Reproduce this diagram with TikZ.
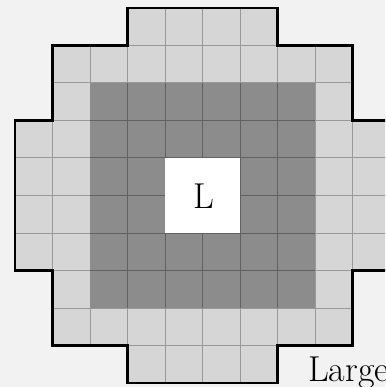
\documentclass[tikz,border=0pt]{standalone}
\definecolor{paper}{gray}{0.95}
\definecolor{ringgray}{gray}{0.84}
\definecolor{coregray}{gray}{0.55}
\begin{document}
\begin{tikzpicture}[x=37.5pt,y=-37.5pt,line join=miter,
    cellline/.style={gray!80,line width=1pt},
    coreline/.style={black!62,line width=1pt},
    rim/.style={line width=2.2pt},
    bigtext/.style={font=\fontsize{36}{36}\selectfont,inner sep=0pt}]
  \useasboundingbox (-0.4,-0.2133) rectangle (9.8667,10.1067);
  \clip (-0.4,-0.2133) rectangle (9.8667,10.1067);
  \fill[paper] (-0.4,-0.2133) rectangle (9.8667,10.1067);
  % outline of the block
  \coordinate (c1) at (3,0);  \coordinate (c2) at (7,0);
  \coordinate (c3) at (7,1);  \coordinate (c4) at (9,1);
  \coordinate (c5) at (9,3);  \coordinate (c6) at (10,3);
  \coordinate (c7) at (10,7); \coordinate (c8) at (9,7);
  \coordinate (c9) at (9,9);  \coordinate (c10) at (7,9);
  \coordinate (c11) at (7,10); \coordinate (c12) at (3,10);
  \coordinate (c13) at (3,9); \coordinate (c14) at (1,9);
  \coordinate (c15) at (1,7); \coordinate (c16) at (0,7);
  \coordinate (c17) at (0,3); \coordinate (c18) at (1,3);
  \coordinate (c19) at (1,1); \coordinate (c20) at (3,1);
  \begin{scope}
    \clip (c1)--(c2)--(c3)--(c4)--(c5)--(c6)--(c7)--(c8)--(c9)--(c10)
      --(c11)--(c12)--(c13)--(c14)--(c15)--(c16)--(c17)--(c18)--(c19)--(c20)--cycle;
    \fill[ringgray] (0,0) rectangle (10,10);
    \foreach \k in {1,...,9} {
      \draw[cellline] (\k,0) -- (\k,10);
      \draw[cellline] (0,\k) -- (10,\k);
    }
  \end{scope}
  % dark core
  \fill[coregray] (2,2) rectangle (8,8);
  \foreach \k in {3,...,7} {
    \draw[coreline] (\k,2) -- (\k,8);
    \draw[coreline] (2,\k) -- (8,\k);
  }
  \fill[white] (4,4) rectangle (6,6);
  \node[bigtext] (lbl) at (5.03,5.02) {L};
  \draw[rim] (c1)--(c2)--(c3)--(c4)--(c5)--(c6)--(c7)--(c8)--(c9)--(c10)
    --(c11)--(c12)--(c13)--(c14)--(c15)--(c16)--(c17)--(c18)--(c19)--(c20)--cycle;
  \node[bigtext,anchor=base west] (large) at (7.81,9.97) {Large};
\end{tikzpicture}
\end{document}
